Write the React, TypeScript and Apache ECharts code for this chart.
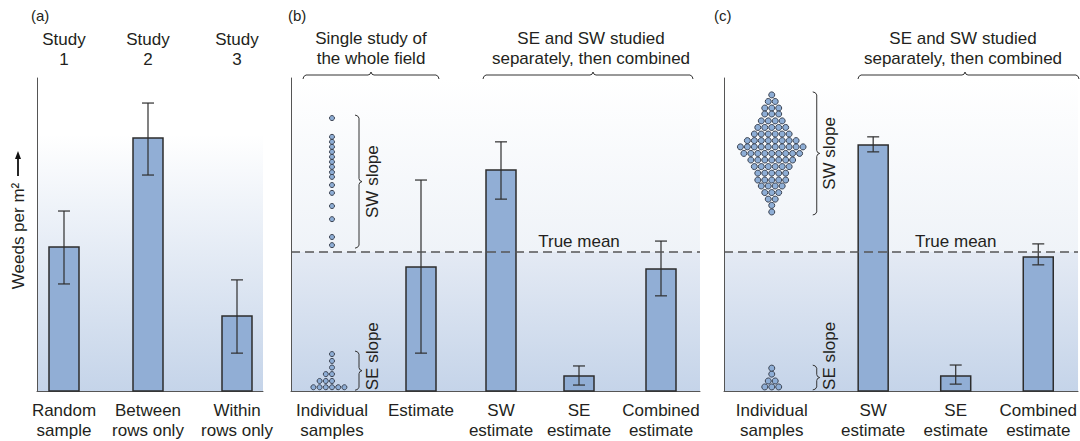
import React, { useEffect, useRef } from 'react';
import * as echarts from 'echarts';

// ---------- data ----------
const trueMean = 44.4;

const headA = ['Study\n1', 'Study\n2', 'Study\n3'];
const labelsA = ['Random\nsample', 'Between\nrows only', 'Within\nrows only'];
const meansA = [46.0, 80.8, 24.0];
const lowA = [34.2, 69.0, 12.1];
const highA = [57.5, 92.0, 35.5];

const labelsB = ['Individual\nsamples', 'Estimate', 'SW\nestimate', 'SE\nestimate', 'Combined\nestimate'];
const meansB = [39.6, 70.6, 4.8, 39.0];
const lowB = [12.1, 61.3, 1.9, 30.4];
const highB = [67.4, 79.6, 8.0, 47.9];
const swSamplesB = [87.2, 81.2, 79.6, 78.0, 76.4, 74.8, 73.2, 71.6, 69.9, 68.4, 65.8, 63.3, 59.1, 54.9, 49.2, 46.6];
const seRowValuesB = [1.2, 3.2, 5.4, 7.5, 9.6, 11.8];
const seRowCountsB = [6, 3, 2, 1, 1, 1];

const labelsC = ['Individual\nsamples', 'SW\nestimate', 'SE\nestimate', 'Combined\nestimate'];
const meansC = [78.6, 4.8, 42.8];
const lowC = [76.4, 2.2, 40.3];
const highC = [81.2, 8.3, 47.0];
const swRowValuesC = [94.6, 92.5, 90.4, 88.5, 86.3, 84.2, 82.1, 80.0, 78.0, 75.9, 73.8, 71.7, 69.6, 67.4, 65.5, 63.4, 61.3, 59.3, 57.2];
const swRowCountsC = [1, 2, 3, 3, 4, 5, 6, 8, 10, 9, 7, 6, 5, 5, 4, 3, 2, 1, 1];
const seRowValuesC = [1.3, 3.2, 5.4, 7.3];
const seRowCountsC = [3, 2, 1, 1];

// ---------- layout ----------
const FONT = '"Liberation Sans", Arial, Helvetica, sans-serif';
const TXT = '#231f20';
const AX = '#555555';
const BAR = '#91aed5';
const DOT = '#8eaed6';
const DOT_EDGE = '#3b4352';
const grids = [
  { left: 37, top: 78, width: 226, height: 313 },
  { left: 291, top: 78, width: 409, height: 313 },
  { left: 724, top: 78, width: 356, height: 313 },
];
const posA = [27, 111, 200];
const posB = [41, 130, 210, 288, 370];
const posC = [48, 150, 233, 316];
const seStartB = [-3, -2, -1, 0, 0, 0];
const pitchB = 6.2;
const pitchC = 7;

function centeredRows(center: number, pitch: number, values: number[], counts: number[]) {
  const out: number[][] = [];
  values.forEach((v, i) => {
    const n = counts[i];
    for (let k = 0; k < n; k++) out.push([center + (k - (n - 1) / 2) * pitch, v]);
  });
  return out;
}

function barRender(params: any, api: any) {
  const x = api.value(0), m = api.value(1), lo = api.value(2), hi = api.value(3);
  const base = api.coord([x, 0]);
  const top = api.coord([x, m]);
  const pLo = api.coord([x, lo]);
  const pHi = api.coord([x, hi]);
  const hw = 15, cap = 6;
  const es = { stroke: '#2e2e2e', lineWidth: 1.2 };
  return {
    type: 'group',
    children: [
      { type: 'rect', shape: { x: base[0] - hw, y: top[1], width: hw * 2, height: base[1] - top[1] }, style: { fill: BAR, stroke: '#2d2d2d', lineWidth: 1.5 } },
      { type: 'line', shape: { x1: pLo[0], y1: pLo[1], x2: pHi[0], y2: pHi[1] }, style: es },
      { type: 'line', shape: { x1: pLo[0] - cap, y1: pLo[1], x2: pLo[0] + cap, y2: pLo[1] }, style: es },
      { type: 'line', shape: { x1: pHi[0] - cap, y1: pHi[1], x2: pHi[0] + cap, y2: pHi[1] }, style: es },
    ],
  };
}

function vBrace(x: number, y0: number, y1: number) {
  const m = (y0 + y1) / 2;
  return {
    type: 'polyline', z: 20,
    shape: { points: [[x - 4, y0], [x - 1.5, y0 + 0.8], [x, y0 + 3], [x, m - 3], [x + 0.8, m - 1], [x + 3, m], [x + 0.8, m + 1], [x, m + 3], [x, y1 - 3], [x - 1.5, y1 - 0.8], [x - 4, y1]] },
    style: { stroke: '#333', lineWidth: 1, fill: null },
  };
}
function hBrace(x0: number, x1: number, y: number, mid: number) {
  return {
    type: 'polyline', z: 20,
    shape: { points: [[x0, y + 4], [x0 + 0.8, y + 1.5], [x0 + 3, y], [mid - 3, y], [mid - 1, y - 0.8], [mid, y - 3], [mid + 1, y - 0.8], [mid + 3, y], [x1 - 3, y], [x1 - 0.8, y + 1.5], [x1, y + 4]] },
    style: { stroke: '#333', lineWidth: 1, fill: null },
  };
}
function txt(x: number, y: number, text: string, opts: any = {}) {
  return {
    type: 'text', x, y, z: 20, rotation: opts.rotation || 0,
    style: {
      text, fill: TXT, fontSize: opts.fontSize || 17, fontFamily: FONT,
      align: opts.align || 'center', verticalAlign: opts.verticalAlign || 'middle', lineHeight: 20,
    },
  };
}

export default function App() {
  const ref = useRef<HTMLDivElement>(null);
  useEffect(() => {
    const el = ref.current!;
    const chart = echarts.init(el, null, { renderer: 'svg', width: 1080, height: 441 });
    const labelSets = [labelsA, labelsB, labelsC];
    const posSets = [posA, posB, posC];

    const xAxis = grids.map((g, i) => ({
      type: 'value', gridIndex: i, min: 0, max: g.width,
      axisLine: { show: true, onZero: false, lineStyle: { color: AX, width: 1 } },
      axisTick: { show: false }, splitLine: { show: false },
      axisLabel: {
        customValues: posSets[i],
        formatter: (v: number) => labelSets[i][posSets[i].indexOf(v)] ?? '',
        fontSize: 17, fontFamily: FONT, color: TXT, lineHeight: 20, margin: 9,
      },
    }));
    const yAxis = grids.map((g, i) => ({
      type: 'value', gridIndex: i, min: 0, max: 100,
      axisLine: { show: true, lineStyle: { color: AX, width: 1 } },
      axisTick: { show: false }, splitLine: { show: false }, axisLabel: { show: false },
    }));

    const barsA = meansA.map((m, k) => [posA[k], m, lowA[k], highA[k]]);
    const barsB = meansB.map((m, k) => [posB[k + 1], m, lowB[k], highB[k]]);
    const barsC = meansC.map((m, k) => [posC[k + 1], m, lowC[k], highC[k]]);

    const swDotsB = swSamplesB.map((v) => [posB[0], v]);
    const seDotsB: number[][] = [];
    seRowValuesB.forEach((v, r) => {
      for (let k = 0; k < seRowCountsB[r]; k++) seDotsB.push([posB[0] + (seStartB[r] + k) * pitchB, v]);
    });
    const swDotsC = centeredRows(posC[0], pitchC, swRowValuesC, swRowCountsC);
    const seDotsC = centeredRows(posC[0], pitchC, seRowValuesC, seRowCountsC);

    const meanLine = {
      symbol: 'none', silent: true, label: { show: false },
      lineStyle: { type: [9, 5], color: '#555', width: 1.5 },
      data: [{ yAxis: trueMean }],
    };
    const dotSeries = (idx: number, data: number[][], size: number, extra: any = {}) => ({
      type: 'scatter', xAxisIndex: idx, yAxisIndex: idx, data, symbolSize: size, silent: true,
      itemStyle: { color: DOT, borderColor: DOT_EDGE, borderWidth: 1, opacity: 1 }, ...extra,
    });

    chart.setOption({
      animation: false,
      grid: grids.map((g) => ({ ...g })),
      xAxis, yAxis,
      series: [
        { type: 'custom', xAxisIndex: 0, yAxisIndex: 0, data: barsA, renderItem: barRender, silent: true },
        { type: 'custom', xAxisIndex: 1, yAxisIndex: 1, data: barsB, renderItem: barRender, silent: true },
        { type: 'custom', xAxisIndex: 2, yAxisIndex: 2, data: barsC, renderItem: barRender, silent: true },
        dotSeries(1, swDotsB, 5),
        dotSeries(1, seDotsB, 5, { z: 5, markLine: meanLine }),
        dotSeries(2, swDotsC, 6),
        dotSeries(2, seDotsC, 6, { z: 5, markLine: meanLine }),
      ],
    });

    const px = (g: number, x: number, y: number) => chart.convertToPixel({ xAxisIndex: g, yAxisIndex: g } as any, [x, y]) as number[];
    const els: any[] = [];
    // backgrounds
    const a0 = px(0, 0, 100), a1 = px(0, grids[0].width, 0);
    els.push({
      type: 'rect', z: -10, shape: { x: a0[0], y: a0[1], width: a1[0] - a0[0], height: a1[1] - a0[1] },
      style: { fill: new echarts.graphic.LinearGradient(0, 0, 0, 1, [{ offset: 0, color: '#ffffff' }, { offset: 0.18, color: '#ffffff' }, { offset: 1, color: '#c5d4e9' }]) },
    });
    [1, 2].forEach((g) => {
      const t = px(g, 0, 100), m = px(g, grids[g].width, trueMean), b = px(g, grids[g].width, 0);
      els.push({
        type: 'rect', z: -10, shape: { x: t[0], y: t[1], width: m[0] - t[0], height: m[1] - t[1] },
        style: { fill: new echarts.graphic.LinearGradient(0, 0, 0, 1, [{ offset: 0, color: '#ffffff' }, { offset: 1, color: '#eff3f8' }]) },
      });
      els.push({
        type: 'rect', z: -10, shape: { x: t[0], y: m[1], width: m[0] - t[0], height: b[1] - m[1] },
        style: { fill: new echarts.graphic.LinearGradient(0, 0, 0, 1, [{ offset: 0, color: '#e4eaf4' }, { offset: 1, color: '#c5d4e9' }]) },
      });
      const se = px(g, posSets[g][g === 1 ? 3 : 2], trueMean);
      els.push(txt(se[0], se[1] - 11, 'True mean'));
    });

    // panel letters
    els.push(txt(31, 15, '(a)', { align: 'left', fontSize: 15 }));
    els.push(txt(288, 15, '(b)', { align: 'left', fontSize: 15 }));
    els.push(txt(714, 15, '(c)', { align: 'left', fontSize: 15 }));

    // study headings
    headA.forEach((h, k) => {
      const p = px(0, posA[k], 0);
      els.push(txt(p[0], 49, h));
    });
    // group headings & braces
    els.push(txt(371, 48.5, 'Single study of\nthe whole field'));
    els.push(hBrace(303, 439, 75, 371));
    els.push(txt(591, 48.5, 'SE and SW studied\nseparately, then combined'));
    els.push(hBrace(483, 693, 75, 593));
    els.push(txt(963, 48.5, 'SE and SW studied\nseparately, then combined'));
    els.push(hBrace(858, 1079, 75, 965));

    // y axis label
    els.push(txt(18, 236, 'Weeds per m²', { rotation: Math.PI / 2 }));
    els.push({ type: 'line', z: 20, shape: { x1: 18, y1: 176, x2: 18, y2: 157 }, style: { stroke: '#111', lineWidth: 1.8 } });
    els.push({ type: 'polygon', z: 20, shape: { points: [[18, 151], [15, 159], [21, 159]] }, style: { fill: '#111' } });

    // slope braces
    const slope = (g: number, col: number, off: number, vals: number[], r: number, label: string, anchorBottom: boolean) => {
      const top = px(g, posSets[g][col], Math.max(...vals));
      const bot = px(g, posSets[g][col], Math.min(...vals));
      const bx = top[0] + off;
      const y0 = top[1] - r, y1 = bot[1] + r;
      els.push(vBrace(bx, y0, y1));
      if (anchorBottom) els.push(txt(bx + 13, y1, label, { rotation: Math.PI / 2, align: 'left' }));
      else els.push(txt(bx + 13, (y0 + y1) / 2, label, { rotation: Math.PI / 2 }));
    };
    slope(1, 0, 27, swSamplesB, 3, 'SW slope', false);
    slope(1, 0, 27, seRowValuesB, 3, 'SE slope', true);
    slope(2, 0, 45, swRowValuesC, 3, 'SW slope', false);
    slope(2, 0, 45, seRowValuesC, 3, 'SE slope', true);

    chart.setOption({ graphic: { elements: els } });
    return () => chart.dispose();
  }, []);
  return <div ref={ref} style={{ position: 'absolute', left: 0, top: 0, width: 1080, height: 441, background: '#fff' }} />;
}
